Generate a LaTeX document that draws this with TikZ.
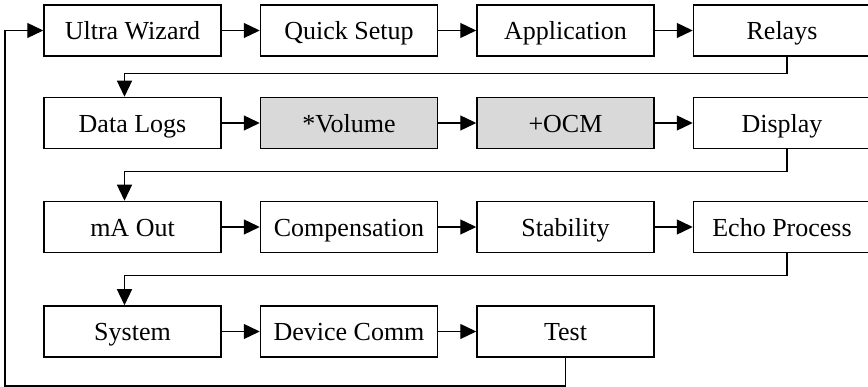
\documentclass[tikz,border=0pt]{standalone}
\usepackage{fontspec}
\setmainfont{Liberation Serif}
\usepackage{xcolor}
\usepackage{tikz}
\usetikzlibrary{arrows.meta,positioning}

\definecolor{optgray}{HTML}{D9D9D9}

\begin{document}
\begin{tikzpicture}[
  x=1pt, y=-1pt,
  node distance=38pt,
  box/.style={draw, line width=1.5pt, minimum width=177pt, minimum height=51pt, inner sep=2pt,
    text height=19pt, text depth=0pt, font=\fontsize{26}{31}\selectfont},
  opt/.style={box, fill=optgray},
  arrow/.style={-{Triangle[length=16pt,width=15pt]}, line width=1.3pt},
]
\useasboundingbox (0,0) rectangle (868,387);

\node[box] (wizard) at (132.5,30.5) {Ultra Wizard};
\node[box, right=of wizard] (setup) {Quick Setup};
\node[box, right=of setup] (application) {Application};
\node[box, right=of application] (relays) {Relays};

\node[box] (logs) at (132.5,123) {Data Logs};
\node[opt, right=of logs] (volume) {*Volume};
\node[opt, right=of volume] (ocm) {+OCM};
\node[box, right=of ocm] (display) {Display};

\node[box] (maout) at (132.5,227) {mA Out};
\node[box, right=of maout] (comp) {Compensation};
\node[box, right=of comp] (stability) {Stability};
\node[box, right=of stability] (echo) {Echo Process};

\node[box] (system) at (132.5,331.5) {System};
\node[box, right=of system] (comm) {Device Comm};
\node[box, right=of comm] (test) {Test};

\coordinate (loop) at (5,386);

\draw[arrow] (wizard) -- (setup);
\draw[arrow] (setup) -- (application);
\draw[arrow] (application) -- (relays);
\draw[arrow] ([xshift=5pt]relays.south) -- ++(0,17) -| ([xshift=-8pt]logs.north);

\draw[arrow] (logs) -- (volume);
\draw[arrow] (volume) -- (ocm);
\draw[arrow] (ocm) -- (display);
\draw[arrow] ([xshift=5pt]display.south) -- ++(0,22.5) -| ([xshift=-8pt]maout.north);

\draw[arrow] (maout) -- (comp);
\draw[arrow] (comp) -- (stability);
\draw[arrow] (stability) -- (echo);
\draw[arrow] ([xshift=5pt]echo.south) -- ++(0,22) -| ([xshift=-8pt]system.north);

\draw[arrow] (system) -- (comm);
\draw[arrow] (comm) -- (test);
\draw[arrow] (test.south) |- (loop) |- (wizard.west);
\end{tikzpicture}
\end{document}
